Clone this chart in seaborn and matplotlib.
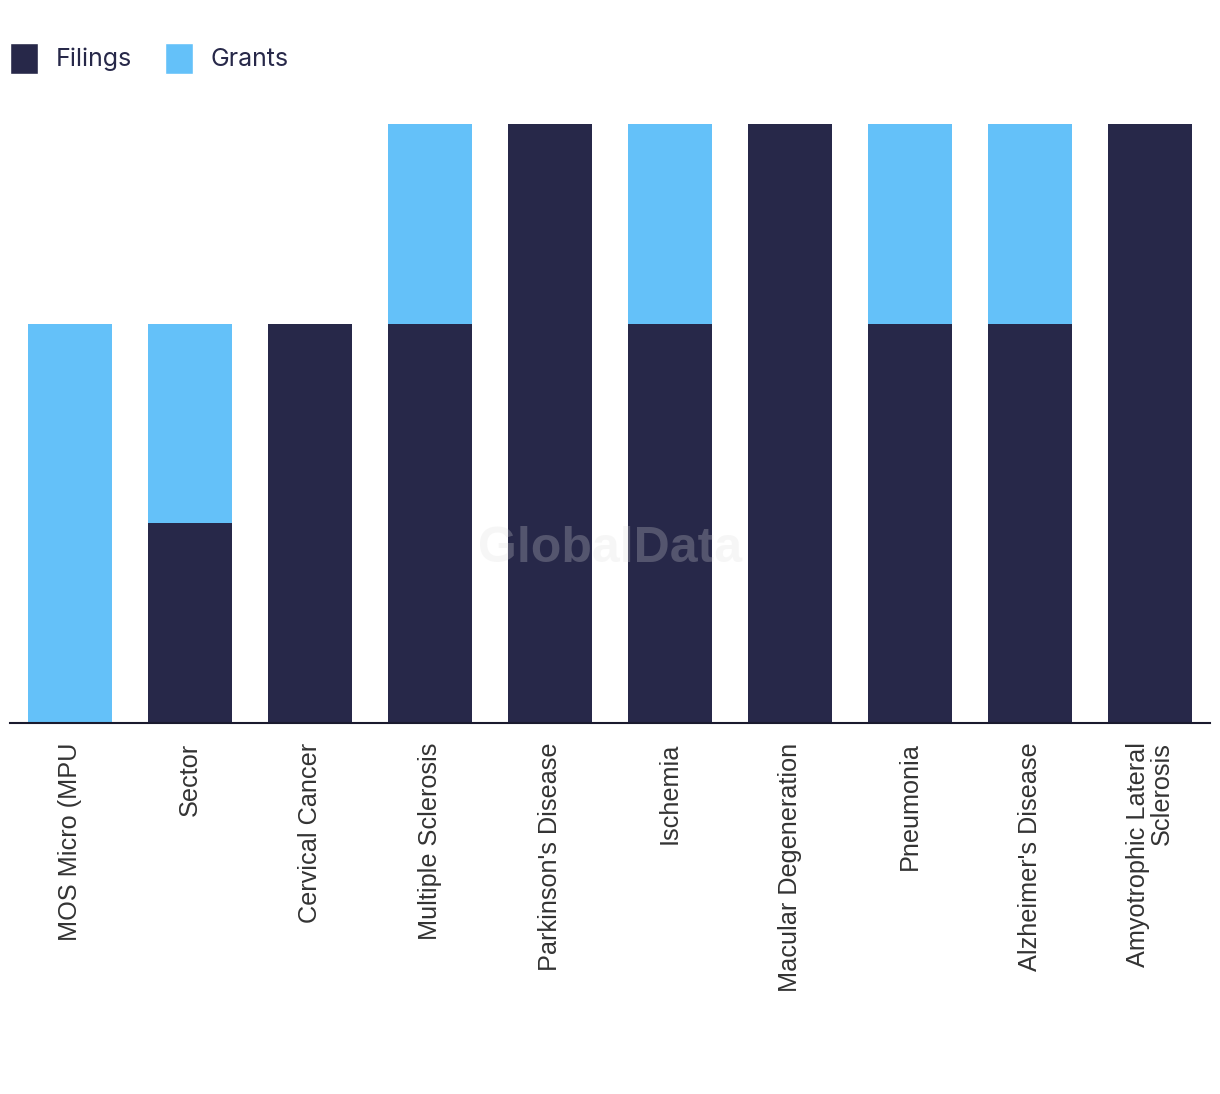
import matplotlib
matplotlib.use("Agg")
import matplotlib.pyplot as plt
from matplotlib.patches import Patch
import seaborn as sns
import pandas as pd

categories = ["MOS Micro (MPU", "Sector", "Cervical Cancer", "Multiple Sclerosis",
              "Parkinson's Disease", "Ischemia", "Macular Degeneration", "Pneumonia",
              "Alzheimer's Disease", "Amyotrophic Lateral\nSclerosis"]
filings = [0, 1, 2, 2, 3, 2, 3, 2, 2, 3]
grants = [2, 1, 0, 1, 0, 1, 0, 1, 1, 0]

dark = "#272849"
light = "#64C1F9"

df = pd.DataFrame({"category": categories, "Filings": filings, "Grants": grants})
df["Total"] = df["Filings"] + df["Grants"]

sns.set_theme(style="white")
fig = plt.figure(figsize=(12.2, 10.94), dpi=100)
ax = fig.add_axes([10 / 1220, 1 - 723 / 1094, 1200 / 1220, 599 / 1094])

sns.barplot(data=df, x="category", y="Total", color=light, width=0.7,
            saturation=1, ax=ax, linewidth=0)
sns.barplot(data=df, x="category", y="Filings", color=dark, width=0.7,
            saturation=1, ax=ax, linewidth=0)

ax.set_ylim(0, 3)
ax.set_xlim(-0.5, len(categories) - 0.5)
ax.set_xlabel("")
ax.set_ylabel("")
ax.set_yticks([])
for s in ["top", "right", "left"]:
    ax.spines[s].set_visible(False)
ax.spines["bottom"].set_color("#1a1a2e")
ax.spines["bottom"].set_linewidth(1.5)
ax.tick_params(axis="x", length=0, pad=14)
ax.set_xticks(range(len(categories)))
ax.set_xticklabels(categories, rotation=90, fontsize=18.2, color="#333333",
                   family=["Liberation Sans", "DejaVu Sans"], va="top", ha="center",
                   multialignment="right", linespacing=1.0)

# watermark
ax.text(0.5, 0.29, "GlobalData", transform=ax.transAxes, ha="center", va="center",
        fontsize=36, fontweight="bold", color="#dddddd", alpha=0.25,
        family=["Liberation Sans", "DejaVu Sans"], zorder=5)

handles = [Patch(facecolor=dark, label="Filings"), Patch(facecolor=light, label="Grants")]
leg = fig.legend(handles=handles, loc="upper left", bbox_to_anchor=(2 / 1220, 1 - 35 / 1094),
                 ncol=2, frameon=False, handlelength=1.15, handleheight=1.55,
                 handletextpad=0.7, columnspacing=1.3, borderaxespad=0, borderpad=0.3,
                 prop={"family": ["Inter", "DejaVu Sans"], "size": 18})
for t in leg.get_texts():
    t.set_color("#272849")

fig.savefig("out.png", dpi=100, facecolor="white")
